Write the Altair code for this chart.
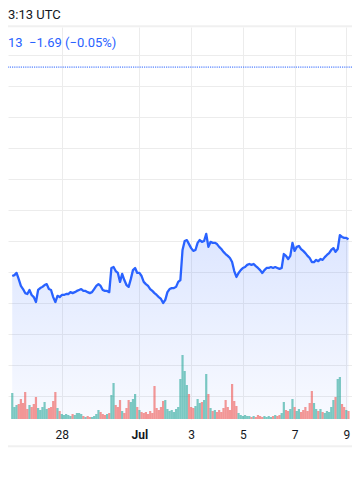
import altair as alt
import pandas as pd

# ---------------- data ----------------
START = "2024-06-26T02:00:00Z"   # first sample, 2-hour steps
STEP_HOURS = 2

price = [
    3328.7, 3329.0, 3329.7, 3327.7, 3325.5, 3324.5, 3323.2, 3322.9, 3324.2, 3322.6, 3321.9, 3320.3,
    3324.2, 3324.8, 3325.2, 3325.8, 3326.1, 3324.5, 3324.2, 3321.9, 3320.3, 3322.3, 3321.9, 3322.6,
    3322.6, 3322.9, 3322.9, 3323.5, 3323.2, 3323.5, 3323.9, 3324.2, 3324.5, 3323.9, 3323.9, 3323.5,
    3323.2, 3323.5, 3324.5, 3325.5, 3326.1, 3325.5, 3324.2, 3323.9, 3323.9, 3323.5, 3331.3, 3331.6,
    3330.3, 3329.7, 3326.8, 3329.4, 3327.4, 3325.8, 3325.2, 3327.7, 3330.6, 3331.3, 3329.7, 3329.7,
    3328.7, 3326.8, 3326.1, 3325.5, 3324.5, 3323.9, 3323.2, 3322.6, 3321.9, 3321.3, 3320.0, 3321.0,
    3323.5, 3324.5, 3324.8, 3324.8, 3325.2, 3326.8, 3327.4, 3337.1, 3340.0, 3340.3, 3339.0, 3337.7,
    3336.8, 3337.1, 3339.4, 3340.3, 3339.7, 3340.0, 3342.3, 3338.1, 3339.7, 3339.4, 3339.4, 3339.0,
    3338.1, 3337.4, 3336.5, 3335.8, 3335.2, 3334.5, 3333.2, 3330.3, 3328.4, 3329.7, 3330.6, 3331.3,
    3331.6, 3332.3, 3332.6, 3332.3, 3332.6, 3331.9, 3331.3, 3330.6, 3329.7, 3330.6, 3331.3, 3331.3,
    3331.6, 3331.3, 3331.6, 3331.3, 3331.0, 3331.3, 3335.8, 3335.2, 3334.2, 3335.2, 3339.4, 3336.8,
    3338.1, 3338.4, 3337.4, 3336.8, 3336.1, 3335.2, 3334.5, 3333.2, 3333.2, 3333.9, 3333.5, 3334.2,
    3333.9, 3334.8, 3335.5, 3336.1, 3337.1, 3337.7, 3336.5, 3337.4, 3341.9, 3341.3, 3341.0, 3341.0,
    3340.6,
]

volume = [
    260, 120, 140, 150, 200, 160, 270, 100, 140, 120, 150, 220,
    110, 90, 120, 170, 100, 110, 120, 180, 270, 110, 80, 50,
    40, 50, 40, 30, 50, 40, 60, 60, 50, 30, 20, 30,
    20, 20, 30, 50, 90, 70, 50, 40, 50, 60, 240, 360,
    140, 120, 190, 80, 60, 110, 190, 170, 200, 250, 120, 90,
    70, 60, 70, 50, 80, 60, 330, 110, 90, 120, 180, 190,
    100, 80, 90, 70, 100, 120, 400, 640, 480, 340, 250, 120,
    110, 130, 200, 160, 170, 190, 450, 250, 110, 80, 90, 70,
    90, 70, 110, 190, 120, 90, 350, 180, 130, 60, 40, 30,
    40, 30, 30, 20, 30, 20, 40, 30, 20, 30, 20, 30,
    20, 30, 40, 30, 40, 60, 170, 90, 80, 100, 200, 120,
    80, 100, 70, 90, 120, 80, 160, 280, 160, 100, 80, 100,
    70, 60, 80, 70, 120, 190, 220, 400, 420, 150, 120, 90,
    80,
]

x_tick_dates = [(2024, 6, 28), (2024, 7, 1), (2024, 7, 3), (2024, 7, 5), (2024, 7, 7), (2024, 7, 9)]
price_grid = [3290, 3300, 3310, 3320, 3330, 3340, 3350, 3360, 3370, 3380, 3390, 3400]
price_domain = [3282.58, 3409.03]
volume_domain = [0, 3920]
prev_close = 3396.1
header_text = "3:13 UTC"
change_text = "13\u00a0\u00a0\u22121.69 (\u22120.05%)"

# ---------------- build table ----------------
t0 = pd.Timestamp(START)
times = [(t0 + pd.Timedelta(hours=STEP_HOURS * i)).strftime("%Y-%m-%dT%H:%M:%SZ") for i in range(len(price))]
direction = ["up"] + ["up" if price[i] >= price[i - 1] else "down" for i in range(1, len(price))]
df = pd.DataFrame({"t": times, "price": price, "volume": volume, "dir": direction})

BLUE = "#2962ff"
GRID = "#ececec"
FONT = "Roboto"
W, H = 344, 392

x_scale = alt.Scale(
    type="utc",
    domain=[
        alt.DateTime(year=2024, month=6, date=26, hours=2, minutes=42, utc=True),
        alt.DateTime(year=2024, month=7, date=9, hours=0, minutes=37, utc=True),
    ],
)
x_axis = alt.Axis(
    values=[alt.DateTime(year=y, month=m, date=d, utc=True) for (y, m, d) in x_tick_dates],
    labelExpr="utcdate(datum.value) == 1 ? utcFormat(datum.value, '%b') : utcFormat(datum.value, '%-d')",
    labelFontWeight={"condition": {"test": "utcdate(datum.value) == 1", "value": "bold"}, "value": "normal"},
    grid=True, gridColor=GRID, gridWidth=1,
    ticks=False, domain=False, title=None,
    labelPadding=15, labelBaseline="middle", labelFontSize=12,
    labelColor="#131722", labelFont=FONT, labelFlush=False, labelOverlap=False,
)
x_enc = alt.X("t:T", scale=x_scale, axis=x_axis)

y_price = alt.Y(
    "price:Q",
    scale=alt.Scale(domain=price_domain, zero=False, nice=False),
    axis=alt.Axis(values=price_grid, grid=True, gridColor=GRID, labels=False,
                  ticks=False, domain=False, title=None, orient="right"),
)

gradient = alt.Gradient(
    gradient="linear",
    stops=[alt.GradientStop(color="rgba(41,98,255,0.16)", offset=0),
           alt.GradientStop(color="rgba(41,98,255,0.03)", offset=1)],
    x1=1, x2=1, y1=0, y2=1,
)

area = alt.Chart(df).mark_area(clip=True, color=gradient).encode(
    x=x_enc, y=y_price, y2=alt.datum(price_domain[0])
)
line = alt.Chart(df).mark_line(clip=True, color=BLUE, strokeWidth=2.3, strokeJoin="round").encode(
    x=x_enc, y=y_price
)
prev = alt.Chart(pd.DataFrame({"price": [prev_close]})).mark_rule(
    color=BLUE, strokeWidth=1, strokeDash=[1.2, 1.0]
).encode(y=y_price)

price_layer = alt.layer(area, line, prev)

bars = alt.Chart(df).mark_bar(clip=True, width=2.2, opacity=0.6).encode(
    x=x_enc,
    y=alt.Y("volume:Q", scale=alt.Scale(domain=volume_domain, nice=False), axis=None),
    color=alt.Color("dir:N", scale=alt.Scale(domain=["up", "down"], range=["#26a69a", "#ef5350"]), legend=None),
)

one = pd.DataFrame({"k": [0]})
top_band = alt.Chart(one).mark_rule(color="#f0f0f0", strokeWidth=2).encode(
    x=alt.value(0), x2=alt.value(W), y=alt.value(-0.7)
)
bottom_band = alt.Chart(one).mark_rule(color="#f0f0f0", strokeWidth=2).encode(
    x=alt.value(0), x2=alt.value(W), y=alt.value(H + 27.3)
)
header = alt.Chart(pd.DataFrame({"label": [header_text]})).mark_text(
    align="left", baseline="middle", font=FONT, fontSize=13, color="#131722"
).encode(text="label:N", x=alt.value(0), y=alt.value(-12))
change = alt.Chart(pd.DataFrame({"label": [change_text]})).mark_text(
    align="left", baseline="middle", font=FONT, fontSize=13, color=BLUE
).encode(text="label:N", x=alt.value(0), y=alt.value(16))

chart = alt.layer(
    price_layer, bars, top_band, bottom_band, header, change
).resolve_scale(y="independent").properties(
    width=W, height=H,
    padding={"left": 0, "right": 0, "top": 19, "bottom": 55},
    autosize=alt.AutoSizeParams(type="none"),
    background="white",
).configure_view(strokeWidth=0)

chart.save("out.html", embed_options={"renderer": "svg", "actions": False})
